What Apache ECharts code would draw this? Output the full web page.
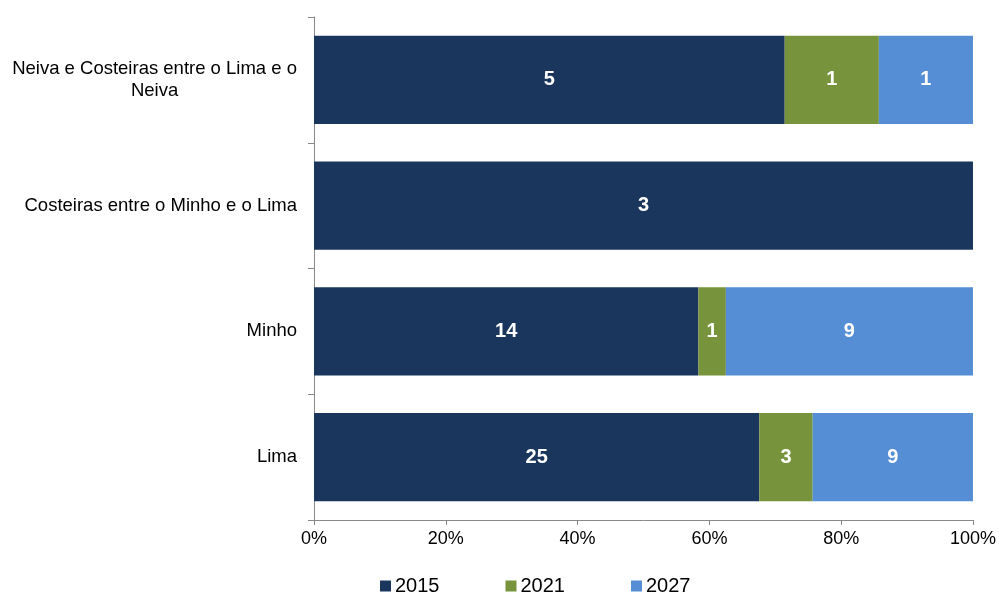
<!DOCTYPE html>
<html>
<head>
<meta charset="utf-8">
<script src="https://cdn.jsdelivr.net/npm/echarts@6/dist/echarts.min.js"></script>
<style>
  html, body { margin: 0; padding: 0; background: #fff; }
  #chart { width: 999px; height: 594px; }
</style>
</head>
<body>
<div id="chart"></div>
<script>
// Water bodies by the year their objectives are reached (counts per category)
const categories = ['Lima', 'Minho', 'Costeiras entre o Minho e o Lima', 'Neiva e Costeiras entre o Lima e o Neiva'];
const seriesNames = ['2015', '2021', '2027'];
const counts2015 = [25, 14, 3, 5];
const counts2021 = [3, 1, 0, 1];
const counts2027 = [9, 9, 0, 1];
const xTicks = [0, 20, 40, 60, 80, 100];

const colors = ['#1B365D', '#77933C', '#558ED5'];
const allCounts = [counts2015, counts2021, counts2027];
const totals = categories.map((_, i) => allCounts.reduce((s, arr) => s + arr[i], 0));

// Wrap long category names onto lines centred within the label block
function wrapLabel(text) {
  const maxLen = 36;
  const words = text.split(' ');
  const lines = [];
  let cur = '';
  words.forEach(w => {
    const next = cur ? cur + ' ' + w : w;
    if (next.length > maxLen && cur) { lines.push(cur); cur = w; }
    else cur = next;
  });
  if (cur) lines.push(cur);
  return lines.map(l => '{c|' + l + '}').join('\n');
}

const series = seriesNames.map((name, k) => ({
  name: name,
  type: 'bar',
  stack: 'total',
  barCategoryGap: '30%',
  itemStyle: { color: colors[k] },
  label: {
    show: true,
    position: 'inside',
    color: '#fff',
    fontWeight: 'bold',
    fontSize: 20,
    fontFamily: 'Liberation Sans, Arial, sans-serif',
    formatter: p => {
      const c = allCounts[k][p.dataIndex];
      return c > 0 ? String(c) : '';
    }
  },
  data: categories.map((_, i) => allCounts[k][i] / totals[i] * 100)
}));

const chart = echarts.init(document.getElementById('chart'));
chart.setOption({
  animation: false,
  textStyle: { fontFamily: 'Liberation Sans, Arial, sans-serif' },
  grid: { left: 314, right: 26, top: 17, bottom: 74 },
  legend: {
    bottom: -7,
    left: 375,
    icon: 'rect',
    itemWidth: 11,
    itemHeight: 11,
    itemGap: 66,
    textStyle: { fontSize: 20, color: '#000', padding: [0, 0, 0, -1] },
    data: seriesNames
  },
  xAxis: {
    type: 'value',
    min: xTicks[0],
    max: xTicks[xTicks.length - 1],
    interval: xTicks[1] - xTicks[0],
    axisLine: { show: true, lineStyle: { color: '#898989' } },
    axisTick: { show: true, length: 5, lineStyle: { color: '#898989' } },
    splitLine: { show: false },
    axisLabel: { color: '#000', fontSize: 18, margin: 10, formatter: '{value}%' }
  },
  yAxis: {
    type: 'category',
    data: categories,
    axisLine: { show: true, lineStyle: { color: '#898989' } },
    axisTick: { show: true, length: 6, lineStyle: { color: '#898989' } },
    axisLabel: {
      color: '#000',
      fontSize: 18.5,
      margin: 17,
      formatter: wrapLabel,
      rich: { c: { align: 'center', fontSize: 18.5, color: '#000', lineHeight: 22 } }
    }
  },
  series: series
});
</script>
</body>
</html>
